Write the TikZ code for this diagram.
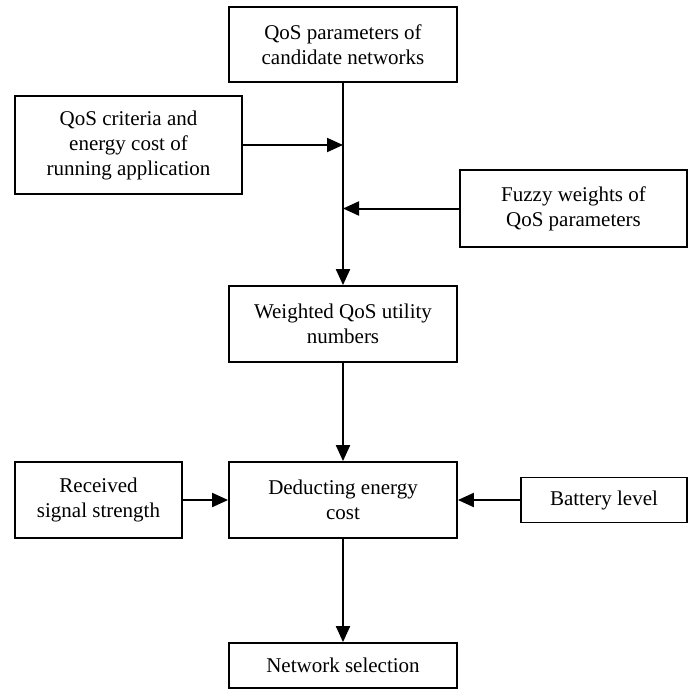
\documentclass[tikz,border=0pt]{standalone}
\usepackage{fontspec}
\setmainfont{Liberation Serif}
\usetikzlibrary{arrows.meta}

\begin{document}
\begin{tikzpicture}[x=1pt, y=-1pt,
    box/.style={draw, line width=1.8pt, align=center, inner sep=0pt,
        font=\fontsize{21}{25}\selectfont},
    arr/.style={line width=2pt, -{Triangle[length=16pt,width=14pt]}}]
    \useasboundingbox (0,0) rectangle (696,689);

    % Blocks
    \node[box, minimum width=228, minimum height=75] (params) at (343,44.5) {QoS parameters of\\candidate networks};
    \node[box, minimum width=227, minimum height=98] (criteria) at (128.5,145) {QoS criteria and\\energy cost of\\running application};
    \node[box, minimum width=227, minimum height=77] (fuzzy) at (573.5,208.5) {Fuzzy weights of\\QoS parameters};
    \node[box, minimum width=228, minimum height=76] (weighted) at (343,324) {Weighted QoS utility\\numbers};
    \node[box, minimum width=228, minimum height=76] (deduct) at (343,500) {Deducting energy\\cost};
    \node[box, minimum width=167, minimum height=76] (rss) at (98.5,500) {Received\\signal strength};
    \node[box, minimum width=166, minimum height=45] (battery) at (604,500) {Battery level};
    \node[box, minimum width=228, minimum height=45] (select) at (343,665.5) {Network selection};

    % Main flow
    \draw[arr] (params) -- (weighted);
    \draw[arr] (weighted) -- (deduct);
    \draw[arr] (deduct) -- (select);

    % Side inputs
    \draw[arr] (criteria.east) -- (criteria.east -| params.south);
    \draw[arr] (fuzzy.west) -- (fuzzy.west -| params.south);
    \draw[arr] (rss) -- (deduct);
    \draw[arr] (battery) -- (deduct);
\end{tikzpicture}
\end{document}
